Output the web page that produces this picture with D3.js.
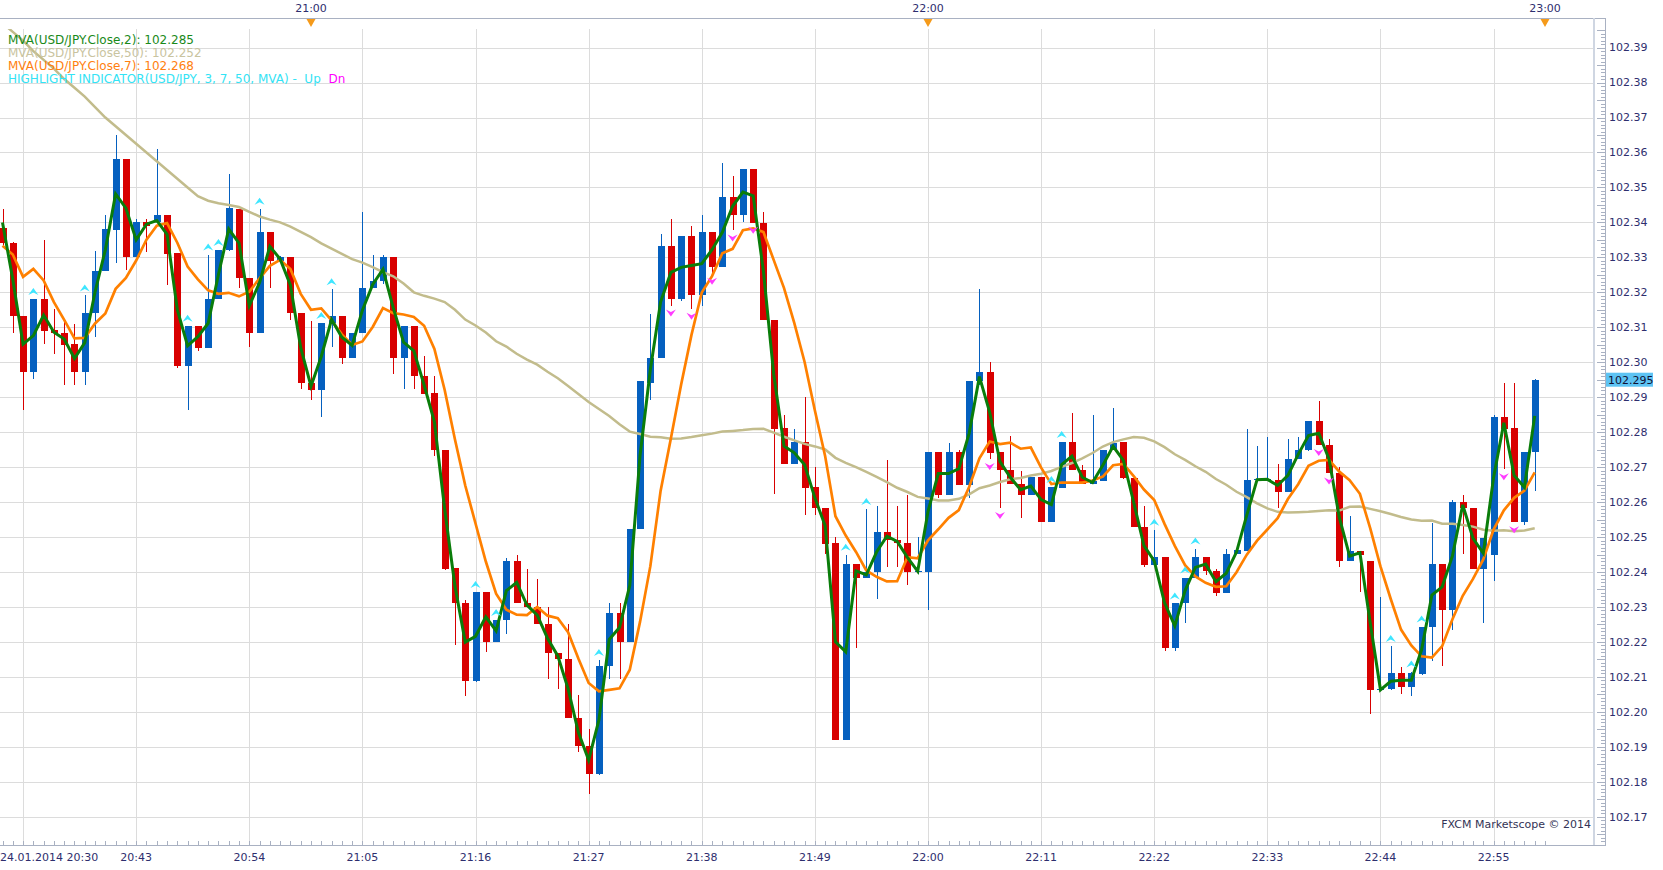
<!DOCTYPE html>
<html>
<head>
<meta charset="utf-8">
<script src="https://cdn.jsdelivr.net/npm/d3@7"></script>
<style>
    body { margin: 0; background: #fff; }
    #chart { width: 1663px; height: 870px; }
    text { font-family: "DejaVu Sans", Verdana, sans-serif; white-space: pre; }
</style>
</head>
<body>
<div id="chart"></div>
<script>

// USD/JPY 1 minute bars, 24.01.2014 20:30 - 22:59
const dateLabel = "24.01.2014 20:30";

const opens = [102.3383,102.3342,102.3132,102.2971,102.3181,102.3091,102.3084,102.3052,102.2971,102.3141,
    102.3261,102.3379,102.3581,102.3300,102.3400,102.3400,102.3421,102.3312,102.2990,102.3104,
    102.3042,102.3181,102.3321,102.3439,102.3240,102.3083,102.3373,102.3290,102.3300,102.3141,
    102.2942,102.2921,102.3112,102.3132,102.3011,102.3085,102.3213,102.3232,102.3300,102.3011,
    102.3104,102.2961,102.2911,102.2750,102.2411,102.2310,102.2089,102.2343,102.2200,102.2263,
    102.2430,102.2310,102.2301,102.2252,102.2169,102.2151,102.1981,102.1902,102.1822,102.2132,
    102.2282,102.2200,102.2523,102.2942,102.3011,102.3333,102.3181,102.3362,102.3191,102.3373,
    102.3271,102.3472,102.3420,102.3553,102.3399,102.3120,102.2812,102.2710,102.2772,102.2643,
    102.2583,102.2483,102.1919,102.2424,102.2382,102.2401,102.2513,102.2492,102.2483,102.2401,
    102.2401,102.2743,102.2620,102.2743,102.2648,102.2945,102.2973,102.2743,102.2691,102.2653,
    102.2620,102.2672,102.2542,102.2641,102.2772,102.2691,102.2651,102.2661,102.2750,102.2772,
    102.2669,102.2530,102.2421,102.2442,102.2182,102.2310,102.2384,102.2442,102.2403,102.2341,
    102.2452,102.2461,102.2663,102.2663,102.2663,102.2630,102.2723,102.2750,102.2831,102.2763,
    102.2682,102.2430,102.2461,102.2430,102.2062,102.2064,102.2111,102.2070,102.2109,102.2244,
    102.2424,102.2291,102.2601,102.2583,102.2409,102.2449,102.2843,102.2812,102.2542,102.2743];

const highs = [102.3439,102.3345,102.3132,102.3181,102.3349,102.3151,102.3114,102.3110,102.3191,102.3318,
    102.3420,102.3650,102.3581,102.3410,102.3410,102.3610,102.3421,102.3312,102.3104,102.3104,
    102.3308,102.3321,102.3538,102.3439,102.3240,102.3439,102.3373,102.3305,102.3300,102.3141,
    102.3119,102.3112,102.3209,102.3132,102.3085,102.3430,102.3308,102.3308,102.3300,102.3104,
    102.3104,102.3019,102.2961,102.2750,102.2411,102.2320,102.2343,102.2343,102.2263,102.2440,
    102.2449,102.2409,102.2380,102.2301,102.2169,102.2250,102.2047,102.1950,102.2148,102.2310,
    102.2310,102.2523,102.2945,102.3138,102.3368,102.3410,102.3362,102.3390,102.3420,102.3373,
    102.3571,102.3532,102.3553,102.3553,102.3430,102.3120,102.2849,102.2808,102.2901,102.2700,
    102.2583,102.2500,102.2449,102.2424,102.2580,102.2589,102.2719,102.2589,102.2620,102.2500,
    102.2743,102.2743,102.2769,102.2750,102.2945,102.3209,102.3000,102.2743,102.2790,102.2688,
    102.2672,102.2672,102.2643,102.2772,102.2856,102.2707,102.2849,102.2750,102.2870,102.2772,
    102.2669,102.2589,102.2521,102.2442,102.2310,102.2384,102.2467,102.2442,102.2409,102.2467,
    102.2462,102.2808,102.2760,102.2787,102.2709,102.2779,102.2787,102.2831,102.2889,102.2779,
    102.2700,102.2560,102.2461,102.2430,102.2328,102.2188,102.2127,102.2115,102.2244,102.2539,
    102.2424,102.2605,102.2620,102.2583,102.2498,102.2849,102.2942,102.2942,102.2743,102.2952];

const lows = [102.3335,102.3085,102.2864,102.2952,102.3052,102.3023,102.2934,102.2934,102.2934,102.3073,
    102.3261,102.3284,102.3263,102.3300,102.3315,102.3400,102.3222,102.2983,102.2864,102.3033,
    102.3042,102.3181,102.3318,102.3213,102.3045,102.3083,102.3213,102.3285,102.3122,102.2924,
    102.2893,102.2843,102.3045,102.2995,102.3011,102.3085,102.3213,102.3225,102.2965,102.2924,
    102.2924,102.2909,102.2732,102.2405,102.2192,102.2044,102.2085,102.2172,102.2200,102.2223,
    102.2310,102.2301,102.2252,102.2093,102.2064,102.1981,102.1884,102.1764,102.1820,102.2093,
    102.2093,102.2200,102.2523,102.2893,102.3011,102.3162,102.3175,102.3153,102.3162,102.3253,
    102.3271,102.3377,102.3400,102.3399,102.3120,102.2624,102.2710,102.2710,102.2564,102.2564,
    102.2452,102.1919,102.1919,102.2183,102.2382,102.2322,102.2413,102.2413,102.2363,102.2393,
    102.2291,102.2611,102.2620,102.2648,102.2611,102.2936,102.2723,102.2583,102.2651,102.2554,
    102.2620,102.2542,102.2542,102.2641,102.2691,102.2651,102.2651,102.2661,102.2750,102.2665,
    102.2530,102.2415,102.2421,102.2173,102.2173,102.2254,102.2384,102.2390,102.2332,102.2341,
    102.2452,102.2461,102.2661,102.2661,102.2583,102.2630,102.2723,102.2745,102.2763,102.2682,
    102.2413,102.2430,102.2344,102.1993,102.2060,102.2062,102.2052,102.2046,102.2105,102.2145,
    102.2132,102.2235,102.2452,102.2409,102.2254,102.2374,102.2694,102.2542,102.2535,102.2632];

const closes = [102.3342,102.3132,102.2971,102.3181,102.3089,102.3083,102.3050,102.2971,102.3141,102.3261,
    102.3382,102.3581,102.3300,102.3400,102.3390,102.3421,102.3311,102.2990,102.3104,102.3042,
    102.3181,102.3321,102.3441,102.3240,102.3083,102.3373,102.3290,102.3300,102.3141,102.2942,
    102.2921,102.3112,102.3132,102.3011,102.3085,102.3213,102.3232,102.3300,102.3011,102.3104,
    102.2961,102.2909,102.2750,102.2409,102.2310,102.2089,102.2343,102.2200,102.2263,102.2430,
    102.2310,102.2301,102.2252,102.2169,102.2151,102.1981,102.1902,102.1822,102.2132,102.2282,
    102.2200,102.2523,102.2945,102.3013,102.3333,102.3181,102.3362,102.3191,102.3373,102.3271,
    102.3472,102.3420,102.3553,102.3399,102.3120,102.2810,102.2710,102.2772,102.2641,102.2583,
    102.2481,102.1919,102.2424,102.2382,102.2401,102.2513,102.2492,102.2483,102.2401,102.2403,
    102.2743,102.2620,102.2743,102.2648,102.2945,102.2973,102.2740,102.2691,102.2651,102.2620,
    102.2672,102.2542,102.2643,102.2772,102.2691,102.2651,102.2661,102.2750,102.2769,102.2669,
    102.2530,102.2421,102.2442,102.2182,102.2310,102.2384,102.2442,102.2403,102.2341,102.2452,
    102.2462,102.2663,102.2665,102.2665,102.2630,102.2723,102.2750,102.2831,102.2763,102.2682,
    102.2430,102.2461,102.2449,102.2062,102.2064,102.2111,102.2070,102.2111,102.2244,102.2424,
    102.2291,102.2601,102.2583,102.2409,102.2498,102.2843,102.2810,102.2542,102.2743,102.2950];

// averages drawn before enough bars exist on screen
const ma2Head = [102.3400];
const ma7Head = [102.3333,102.3308,102.3244,102.3267,102.3234,102.3172];
const ma50Head = [102.3970,102.3945,102.3920,102.3890,102.3865,102.3840,102.3810,102.3785,102.3760,102.3730,
    102.3700,102.3675,102.3650,102.3625,102.3600,102.3575,102.3550,102.3525,102.3500,102.3475,
    102.3462,102.3455,102.3450,102.3444,102.3430,102.3417,102.3408,102.3400,102.3388,102.3373,
    102.3358,102.3340,102.3325,102.3310,102.3295,102.3285,102.3272,102.3258,102.3246,102.3225,
    102.3200,102.3190,102.3182,102.3172,102.3150,102.3122,102.3105,102.3085,102.3060];

// highlight indicator arrows (bar index)
const upSignals = [3,8,18,20,21,25,31,32,46,48,58,82,84,102,103,112,114,115,116,135,137,138];
const dnSignals = [65,67,69,71,73,96,97,128,129,146,147];

// axis labels
const gridTimes = ["20:32","20:43","20:54","21:05","21:16","21:27","21:38","21:49","22:00","22:11","22:22","22:33","22:44","22:55"];
const hourTimes = ["21:00","22:00","23:00"];
const priceTicks = [102.17,102.18,102.19,102.20,102.21,102.22,102.23,102.24,102.25,102.26,102.27,102.28,
    102.29,102.30,102.31,102.32,102.33,102.34,102.35,102.36,102.37,102.38,102.39];

const legendRows = [
    {label: "MVA(USD/JPY.Close,2): ", value: "102.285", color: "#1a8a1a"},
    {label: "MVA(USD/JPY.Close,50): ", value: "102.252", color: "#c9c4a0"},
    {label: "MVA(USD/JPY.Close,7): ", value: "102.268", color: "#ff7f10"}
];
const lastPrice = "102.295";
const watermark = "FXCM Marketscope \u00a9 2014";


class CandleVis {

    constructor(parentElement) {
        this.parentElement = parentElement;
        this.initVis();
    }

    initVis() {
        let vis = this;

        vis.width = 1663;
        vis.height = 870;
        vis.plot = {left: 0, right: 1593, top: 29, bottom: 845};
        vis.axisX = 1605;

        vis.svg = d3.select("#" + vis.parentElement).append("svg")
            .attr("width", vis.width)
            .attr("height", vis.height);

        vis.parseTime = d3.timeParse("%d.%m.%Y %H:%M");
        vis.t0 = vis.parseTime(dateLabel);

        vis.x = d3.scaleTime()
            .domain([vis.t0, d3.timeMinute.offset(vis.t0, 150)])
            .range([2.5, 1545]);

        vis.y = d3.scaleLinear()
            .domain([102.17, 102.39])
            .range([816.7, 47.6]);

        vis.svg.append("defs").append("clipPath").attr("id", "plotClip")
            .append("rect")
            .attr("x", vis.plot.left).attr("y", vis.plot.top)
            .attr("width", vis.plot.right - vis.plot.left)
            .attr("height", vis.plot.bottom - vis.plot.top);

        vis.wrangleData();
    }

    wrangleData() {
        let vis = this;

        let movingAvg = (n, head) => closes.map((c, i) =>
            i < head.length ? head[i] : d3.mean(closes.slice(i - n + 1, i + 1)));

        vis.bars = closes.map((c, i) => ({
            i: i,
            time: d3.timeMinute.offset(vis.t0, i),
            open: opens[i], high: highs[i], low: lows[i], close: c,
            ma2: null, ma7: null, ma50: null
        }));

        let ma2 = movingAvg(2, ma2Head), ma7 = movingAvg(7, ma7Head), ma50 = movingAvg(50, ma50Head);
        vis.bars.forEach((b, i) => { b.ma2 = ma2[i]; b.ma7 = ma7[i]; b.ma50 = ma50[i]; });

        vis.updateVis();
    }

    updateVis() {
        let vis = this;
        let x = vis.x, y = vis.y;
        let toTime = s => vis.parseTime("24.01.2014 " + s);

        // grid
        let grid = vis.svg.append("g").attr("shape-rendering", "crispEdges");
        grid.selectAll(".hgrid").data(priceTicks).enter().append("line")
            .attr("x1", vis.plot.left).attr("x2", vis.plot.right)
            .attr("y1", d => Math.round(y(d)) + 0.5).attr("y2", d => Math.round(y(d)) + 0.5)
            .attr("stroke", "#dcdcdc");
        grid.selectAll(".vgrid").data(gridTimes).enter().append("line")
            .attr("x1", d => Math.round(x(toTime(d))) + 0.5).attr("x2", d => Math.round(x(toTime(d))) + 0.5)
            .attr("y1", vis.plot.top).attr("y2", vis.plot.bottom)
            .attr("stroke", "#dcdcdc");

        // candles
        let bodyW = 7;
        let candles = vis.svg.append("g").attr("shape-rendering", "crispEdges");
        let candle = candles.selectAll(".candle").data(vis.bars).enter().append("g");
        candle.append("line")
            .attr("x1", d => Math.round(x(d.time)) + 0.5)
            .attr("x2", d => Math.round(x(d.time)) + 0.5)
            .attr("y1", d => y(d.high)).attr("y2", d => y(d.low))
            .attr("stroke", d => d.close >= d.open ? "#0560bf" : "#d80000");
        candle.append("rect")
            .attr("x", d => Math.round(x(d.time)) - 3)
            .attr("width", bodyW)
            .attr("y", d => y(Math.max(d.open, d.close)))
            .attr("height", d => Math.max(1, Math.abs(y(d.open) - y(d.close))))
            .attr("fill", d => d.close >= d.open ? "#0560bf" : "#d80000");

        // moving averages
        let lines = vis.svg.append("g").attr("clip-path", "url(#plotClip)");
        let mkLine = key => d3.line().x(d => x(d.time)).y(d => y(d[key]));
        lines.append("path").datum(vis.bars)
            .attr("d", mkLine("ma50")).attr("fill", "none")
            .attr("stroke", "#c2bc8c").attr("stroke-width", 2.5);
        lines.append("path").datum(vis.bars)
            .attr("d", mkLine("ma7")).attr("fill", "none")
            .attr("stroke", "#ff8000").attr("stroke-width", 2.7);
        lines.append("path").datum(vis.bars)
            .attr("d", mkLine("ma2")).attr("fill", "none")
            .attr("stroke", "#0a7d0a").attr("stroke-width", 3);

        // highlight indicator arrows
        let upPath = "M0,-4 L5,3 L0,0.5 L-5,3 Z";
        let dnPath = "M0,4 L5,-3 L0,-0.5 L-5,-3 Z";
        vis.svg.append("g").selectAll("path").data(upSignals).enter().append("path")
            .attr("d", upPath)
            .attr("transform", i => "translate(" + x(vis.bars[i].time) + "," + (y(vis.bars[i].high) - 7) + ")")
            .attr("fill", "#3ee6ff");
        vis.svg.append("g").selectAll("path").data(dnSignals).enter().append("path")
            .attr("d", dnPath)
            .attr("transform", i => "translate(" + x(vis.bars[i].time) + "," + (y(vis.bars[i].low) + 7) + ")")
            .attr("fill", "#ff3cff");

        // legend
        let legend = vis.svg.append("g").attr("font-size", "12px");
        legendRows.forEach((r, k) => {
            legend.append("text")
                .attr("x", 8).attr("y", 40 + k * 12.8).attr("dy", "0.35em")
                .attr("fill", r.color)
                .text(r.label + r.value);
        });
        let hl = legend.append("text")
            .attr("x", 8).attr("y", 40 + 3 * 12.8).attr("dy", "0.35em");
        hl.append("tspan").attr("fill", "#33e3f5").text("HIGHLIGHT INDICATOR(USD/JPY, 3, 7, 50, MVA) -  Up  ");
        hl.append("tspan").attr("fill", "#ff00ff").text("Dn");

        // frame lines
        let frame = vis.svg.append("g").attr("shape-rendering", "crispEdges");
        frame.append("line")
            .attr("x1", 0).attr("x2", vis.axisX).attr("y1", 18.5).attr("y2", 18.5)
            .attr("stroke", "#a9b1c2");
        frame.append("line")
            .attr("x1", 0).attr("x2", vis.axisX).attr("y1", vis.plot.bottom + 0.5).attr("y2", vis.plot.bottom + 0.5)
            .attr("stroke", "#a9b1c2");
        frame.append("line")
            .attr("x1", vis.axisX + 0.5).attr("x2", vis.axisX + 0.5).attr("y1", 18).attr("y2", vis.plot.bottom + 1)
            .attr("stroke", "#a9b1c2");
        frame.append("line")
            .attr("x1", vis.plot.right + 0.5).attr("x2", vis.plot.right + 0.5).attr("y1", 18).attr("y2", vis.plot.bottom)
            .attr("stroke", "#cfd6e2").attr("stroke-width", 2);

        // bottom axis: one tick per bar
        let minuteTicks = d3.timeMinute.range(vis.t0, d3.timeMinute.offset(vis.t0, 151));
        frame.selectAll(".btick").data(minuteTicks).enter().append("line")
            .attr("x1", d => Math.round(x(d)) + 0.5).attr("x2", d => Math.round(x(d)) + 0.5)
            .attr("y1", vis.plot.bottom - 4).attr("y2", vis.plot.bottom)
            .attr("stroke", "#a9b1c2");

        let axisText = vis.svg.append("g").attr("font-size", "11px").attr("fill", "#2e2e6e");
        axisText.append("text")
            .attr("x", 0).attr("y", 857).attr("dy", "0.35em")
            .text(dateLabel);
        axisText.selectAll(".blab").data(gridTimes.slice(1)).enter().append("text")
            .attr("x", d => x(toTime(d))).attr("y", 857).attr("dy", "0.35em")
            .attr("text-anchor", "middle")
            .text(d => d);

        // top axis hour markers
        let hourX = d => x(d === "23:00" ? d3.timeMinute.offset(vis.t0, 150) : toTime(d));
        axisText.selectAll(".tlab").data(hourTimes).enter().append("text")
            .attr("x", hourX)
            .attr("y", 8.5).attr("dy", "0.35em")
            .attr("text-anchor", "middle")
            .text(d => d);
        vis.svg.append("g").selectAll("path").data(hourTimes).enter().append("path")
            .attr("d", "M-4.5,0 L4.5,0 L0,8 Z")
            .attr("transform", d => "translate(" + hourX(d) + ",19)")
            .attr("fill", "#f59a1a");

        // price axis: minor ticks every 0.001
        let minor = d3.range(102163, 102396).map(v => v / 1000);
        frame.selectAll(".ptick").data(minor).enter().append("line")
            .attr("x1", v => vis.axisX - (Math.round(v * 1000) % 5 === 0 ? 8 : 4))
            .attr("x2", vis.axisX)
            .attr("y1", v => Math.round(y(v)) + 0.5).attr("y2", v => Math.round(y(v)) + 0.5)
            .attr("stroke", "#a9b1c2");

        axisText.selectAll(".plab").data(priceTicks).enter().append("text")
            .attr("x", vis.axisX + 4).attr("y", d => y(d)).attr("dy", "0.35em")
            .text(d => d3.format(".2f")(d));

        // last price box
        let lp = +lastPrice;
        vis.svg.append("rect")
            .attr("x", vis.axisX + 1).attr("y", y(lp) - 7)
            .attr("width", 47).attr("height", 14)
            .attr("fill", "#5dc3f3");
        vis.svg.append("text")
            .attr("x", vis.axisX + 3).attr("y", y(lp)).attr("dy", "0.35em")
            .attr("font-size", "11px").attr("fill", "#111133")
            .text(lastPrice);

        // watermark
        vis.svg.append("text")
            .attr("x", 1591).attr("y", 824).attr("dy", "0.35em")
            .attr("text-anchor", "end")
            .attr("font-size", "11px").attr("fill", "#333355")
            .text(watermark);
    }
}

let candleVis = new CandleVis("chart");

</script>
</body>
</html>
